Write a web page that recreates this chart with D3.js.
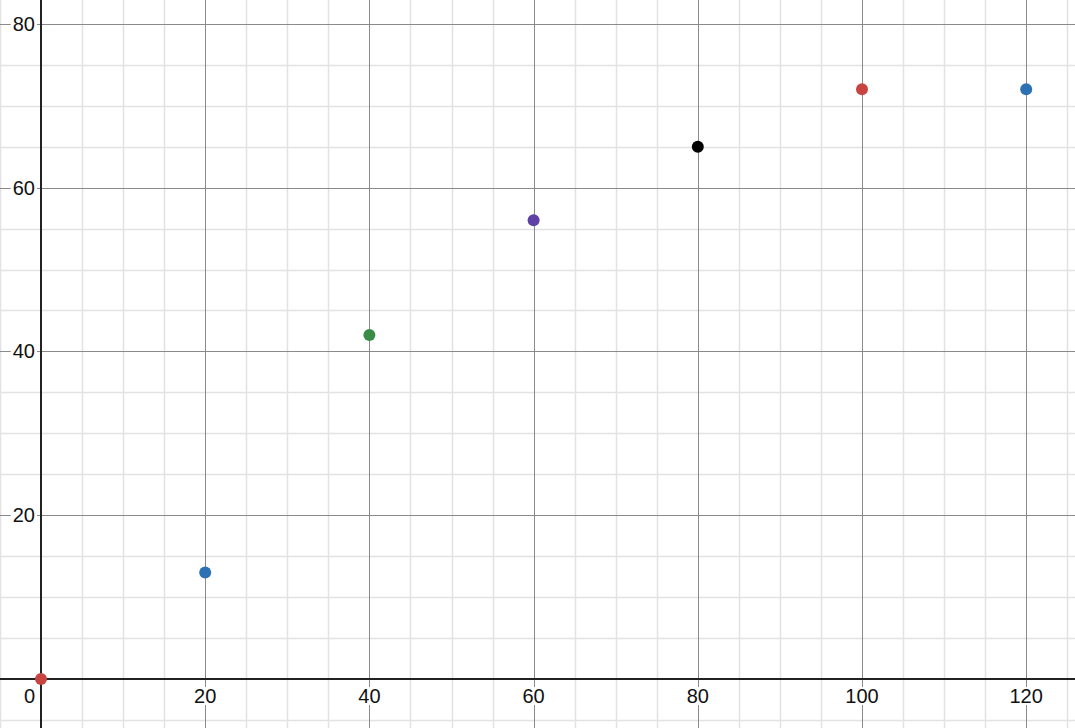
<!DOCTYPE html>
<html>
<head>
<meta charset="utf-8">
<script src="https://cdn.jsdelivr.net/npm/d3@7"></script>
<style>
  html, body { margin: 0; padding: 0; background: #fff; }
  svg { display: block; }
  .lbl { font-family: "Liberation Sans", Arial, sans-serif; font-size: 20px; fill: #111; }
</style>
</head>
<body>
<div id="graph"></div>
<script>
var svgWidth = 1075;
var svgHeight = 728;

// data points
var xValues = [0, 20, 40, 60, 80, 100, 120];
var yValues = [0, 13, 42, 56, 65, 72, 72];
var pointColors = ["#c74440", "#2d70b3", "#388c46", "#6042a6", "#000000", "#c74440", "#2d70b3"];

// tick labels
var xTickLabels = [20, 40, 60, 80, 100, 120];
var yTickLabels = [20, 40, 60, 80];

var xPx = 8.21, yPx = 8.19;
var x0 = 41, y0 = 679;

var xScale = d3.scaleLinear()
    .domain([-x0 / xPx, (svgWidth - x0) / xPx])
    .range([0, svgWidth]);

var yScale = d3.scaleLinear()
    .domain([-(svgHeight - y0) / yPx, y0 / yPx])
    .range([svgHeight, 0]);

var svg = d3.select("#graph")
    .append("svg")
    .attr("width", svgWidth)
    .attr("height", svgHeight);

/********************************************************/
// grid: minor every 5, major every 20

var xMinor = d3.range(-5, 126, 5).filter(d => d % 20 !== 0);
var yMinor = d3.range(-5, 83, 5).filter(d => d % 20 !== 0);
var xMajor = d3.range(20, 126, 20);
var yMajor = d3.range(20, 83, 20);

var grid = svg.append("g");

grid.selectAll(".vminor").data(xMinor).enter().append("line")
    .attr("x1", d => Math.round(xScale(d)) + 0.5)
    .attr("x2", d => Math.round(xScale(d)) + 0.5)
    .attr("y1", 0).attr("y2", svgHeight)
    .attr("stroke", "#e2e2e2").attr("stroke-width", 1.5);

grid.selectAll(".hminor").data(yMinor).enter().append("line")
    .attr("y1", d => Math.round(yScale(d)) + 0.5)
    .attr("y2", d => Math.round(yScale(d)) + 0.5)
    .attr("x1", 0).attr("x2", svgWidth)
    .attr("stroke", "#e2e2e2").attr("stroke-width", 1.5);

grid.selectAll(".vmajor").data(xMajor).enter().append("line")
    .attr("x1", d => Math.round(xScale(d)) + 0.5)
    .attr("x2", d => Math.round(xScale(d)) + 0.5)
    .attr("y1", 0).attr("y2", svgHeight)
    .attr("stroke", "#8a8a8a").attr("stroke-width", 1);

grid.selectAll(".hmajor").data(yMajor).enter().append("line")
    .attr("y1", d => Math.round(yScale(d)) + 0.5)
    .attr("y2", d => Math.round(yScale(d)) + 0.5)
    .attr("x1", 0).attr("x2", svgWidth)
    .attr("stroke", "#8a8a8a").attr("stroke-width", 1);

/********************************************************/
// labels with white backing

function addLabel(txt, x, y, anchor) {
    var t = svg.append("text")
        .attr("class", "lbl")
        .attr("x", x)
        .attr("y", y)
        .attr("text-anchor", anchor)
        .attr("dominant-baseline", "central")
        .text(txt);
    var b = t.node().getBBox();
    svg.insert("rect", "text")
        .attr("x", b.x - 2).attr("y", b.y + 2)
        .attr("width", b.width + 4).attr("height", b.height - 4)
        .attr("fill", "#fff");
}

xTickLabels.forEach(function (d) {
    addLabel(d, xScale(d), yScale(0) + 17, "middle");
});
yTickLabels.forEach(function (d) {
    addLabel(d, xScale(0) - 6, yScale(d), "end");
});
addLabel(0, xScale(0) - 6, yScale(0) + 17, "end");

/********************************************************/
// axes

svg.append("line")
    .attr("x1", xScale(0)).attr("x2", xScale(0))
    .attr("y1", 0).attr("y2", svgHeight)
    .attr("stroke", "#222").attr("stroke-width", 2);

svg.append("line")
    .attr("y1", yScale(0)).attr("y2", yScale(0))
    .attr("x1", 0).attr("x2", svgWidth)
    .attr("stroke", "#222").attr("stroke-width", 2);

/********************************************************/
// points

svg.selectAll("circle")
    .data(xValues)
    .enter()
    .append("circle")
    .attr("cx", d => xScale(d))
    .attr("cy", (d, i) => yScale(yValues[i]))
    .attr("r", 6)
    .attr("fill", (d, i) => pointColors[i]);
</script>
</body>
</html>
